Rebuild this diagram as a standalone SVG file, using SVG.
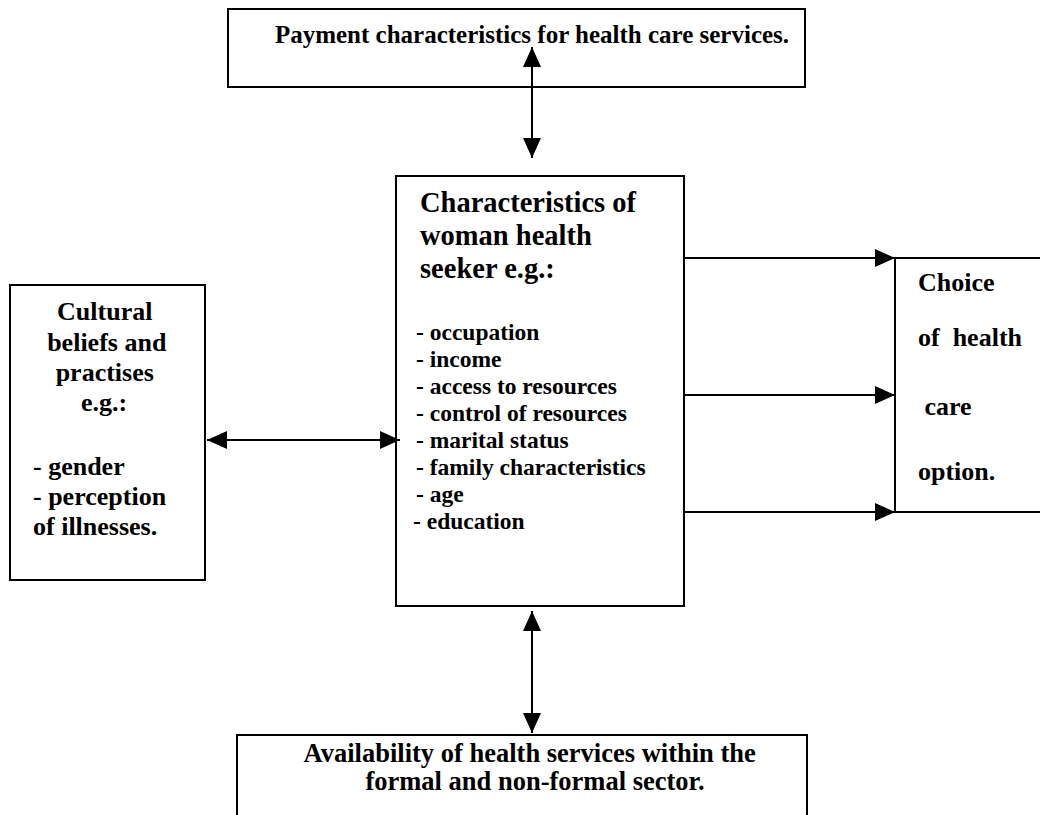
<svg xmlns="http://www.w3.org/2000/svg" width="1040" height="815" viewBox="0 0 1040 815">
<defs>
<style>
.box{fill:#fff;stroke:#000;stroke-width:2}
.t{font-family:"Liberation Serif","Times New Roman",serif;font-weight:bold;fill:#000}
.conn{stroke:#000;stroke-width:2;fill:none}
</style>
<marker id="ah" viewBox="0 0 20 18" refX="20" refY="9" markerWidth="20" markerHeight="18" markerUnits="userSpaceOnUse" orient="auto-start-reverse">
<path d="M0,0 L20,9 L0,18 z" fill="#000"/>
</marker>
</defs>
<rect width="1040" height="815" fill="#fff"/>

<g id="payment">
<rect class="box" x="228" y="9" width="577" height="78"/>
<text class="t" x="532" y="43" font-size="25" text-anchor="middle">Payment characteristics for health care services.</text>
</g>

<g id="woman">
<rect class="box" x="396" y="176" width="288" height="430"/>
<text class="t" font-size="28.5">
<tspan x="420" y="212">Characteristics of</tspan>
<tspan x="420" y="245">woman health</tspan>
<tspan x="420" y="278">seeker e.g.:</tspan>
</text>
<text class="t" font-size="23.5">
<tspan x="416" y="340">- occupation</tspan>
<tspan x="416" y="367">- income</tspan>
<tspan x="416" y="394">- access to resources</tspan>
<tspan x="416" y="421">- control of resources</tspan>
<tspan x="416" y="448">- marital status</tspan>
<tspan x="416" y="475">- family characteristics</tspan>
<tspan x="416" y="502">- age</tspan>
<tspan x="413" y="529">- education</tspan>
</text>
</g>

<g id="cultural">
<rect class="box" x="10" y="285" width="195" height="295"/>
<text class="t" font-size="26" text-anchor="middle">
<tspan x="108" y="320">Cultural</tspan>
<tspan x="110" y="351">beliefs and</tspan>
<tspan x="108" y="381">practises</tspan>
<tspan x="104" y="411">e.g.:</tspan>
</text>
<text class="t" font-size="26">
<tspan x="33" y="475">- gender</tspan>
<tspan x="33" y="505">- perception</tspan>
<tspan x="33" y="535">of illnesses.</tspan>
</text>
</g>

<g id="choice">
<rect class="box" x="895" y="258" width="160" height="254"/>
<text class="t" font-size="26" xml:space="preserve">
<tspan x="918" y="291">Choice</tspan>
<tspan x="918" y="346">of  health</tspan>
<tspan x="918" y="415"> care</tspan>
<tspan x="918" y="480">option.</tspan>
</text>
</g>

<g id="availability">
<rect class="box" x="237" y="735" width="570" height="100"/>
<text class="t" font-size="26.5" text-anchor="middle">
<tspan x="533" y="762">Availability of health services within the</tspan>
<tspan x="535" y="790">formal and non-formal sector.</tspan>
</text>
</g>

<g id="connectors">
<line class="conn" x1="532" y1="47" x2="532" y2="158" marker-start="url(#ah)" marker-end="url(#ah)"/>
<line class="conn" x1="532" y1="611" x2="532" y2="733" marker-start="url(#ah)" marker-end="url(#ah)"/>
<line class="conn" x1="207" y1="440" x2="400" y2="440" marker-start="url(#ah)" marker-end="url(#ah)"/>
<line class="conn" x1="684" y1="258" x2="895" y2="258" marker-end="url(#ah)"/>
<line class="conn" x1="684" y1="395" x2="895" y2="395" marker-end="url(#ah)"/>
<line class="conn" x1="684" y1="512" x2="895" y2="512" marker-end="url(#ah)"/>
</g>
</svg>
